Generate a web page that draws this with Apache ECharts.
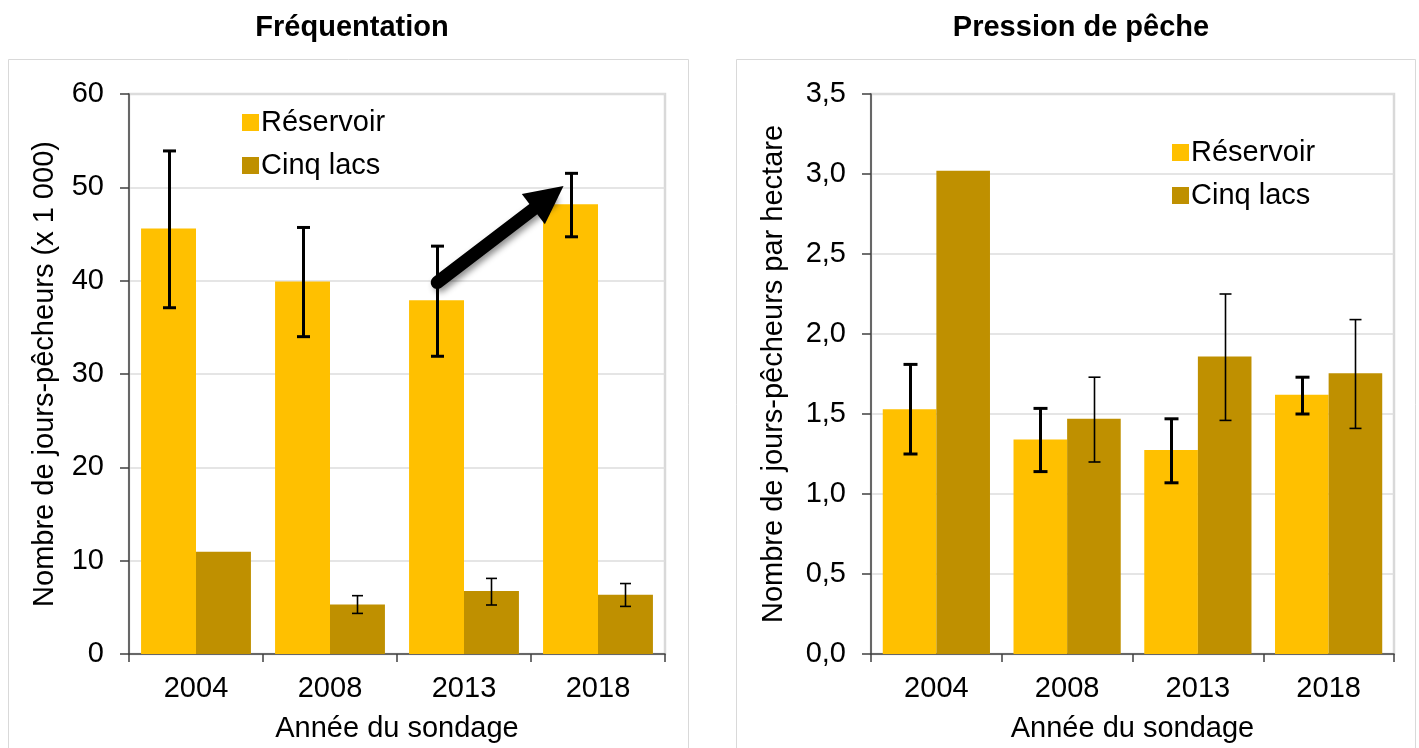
<!DOCTYPE html>
<html>
<head>
<meta charset="utf-8">
<script src="https://cdn.jsdelivr.net/npm/echarts@6/dist/echarts.min.js"></script>
<style>html,body{margin:0;padding:0;background:#fff;}#c{width:1419px;height:748px;}</style>
</head>
<body>
<div id="c"></div>
<script>
// ---- Data ----
var categories = ['2004', '2008', '2013', '2018'];

// Fréquentation (x 1 000 jours-pêcheurs)
var freqReservoir     = [45.6, 39.9, 37.9, 48.2];
var freqReservoirLow  = [37.1, 34.0, 31.9, 44.7];
var freqReservoirHigh = [53.9, 45.7, 43.7, 51.5];
var freqCinq     = [10.95, 5.3, 6.75, 6.35];
var freqCinqLow  = [null, 4.35, 5.25, 5.1];
var freqCinqHigh = [null, 6.25, 8.1, 7.55];

// Pression de pêche (jours-pêcheurs par hectare)
var pressReservoir     = [1.53, 1.34, 1.275, 1.62];
var pressReservoirLow  = [1.25, 1.14, 1.07, 1.50];
var pressReservoirHigh = [1.81, 1.535, 1.47, 1.73];
var pressCinq     = [3.02, 1.47, 1.86, 1.755];
var pressCinqLow  = [null, 1.20, 1.46, 1.41];
var pressCinqHigh = [null, 1.73, 2.25, 2.09];

// Arrow annotation (category-index units, value units)
var arrowFrom = [1.80, 39.8];
var arrowTo   = [2.63, 48.9];

var seriesNames = ['Réservoir', 'Cinq lacs'];

// ---- Styles ----
var FONT = '"Liberation Sans", Arial, sans-serif';
var FS = 29;
var C_RES = '#FFC000', C_CINQ = '#BF9000';
var AXIS = '#404040', GRIDC = '#DDDDDD';
var GAP = 0.18;

function errData(lo, hi) {
  var d = [];
  for (var i = 0; i < lo.length; i++) if (lo[i] != null) d.push([i, lo[i], hi[i]]);
  return d;
}
function makeErr(side, lw, cap) {
  return function (params, api) {
    var i = api.value(0);
    var lo = api.coord([i, api.value(1)]);
    var hi = api.coord([i, api.value(2)]);
    var band = api.size([1, 0])[0];
    var bw = band * (1 - GAP) / 2;
    var x = Math.round(lo[0] + side * bw / 2) + 0.5;
    var st = {stroke: '#000', lineWidth: lw};
    return {type: 'group', children: [
      {type: 'line', shape: {x1: x, y1: lo[1], x2: x, y2: hi[1]}, style: st},
      {type: 'line', shape: {x1: x - cap / 2, y1: lo[1], x2: x + cap / 2, y2: lo[1]}, style: st},
      {type: 'line', shape: {x1: x - cap / 2, y1: hi[1], x2: x + cap / 2, y2: hi[1]}, style: st}
    ]};
  };
}

function catAxis(gi) {
  return {
    type: 'category', gridIndex: gi, data: categories,
    name: 'Année du sondage', nameLocation: 'middle', nameGap: 60,
    nameTextStyle: {fontFamily: FONT, fontSize: FS, color: '#000'},
    axisLine: {show: true, onZero: false, lineStyle: {color: AXIS, width: 1.5}},
    axisTick: {show: true, length: 8, lineStyle: {color: AXIS, width: 1.5}},
    axisLabel: {fontFamily: FONT, fontSize: FS, color: '#000', margin: 20},
    splitLine: {show: false}
  };
}
function valAxis(gi, max, interval, name, gap, fmt) {
  return {
    type: 'value', gridIndex: gi, min: 0, max: max, interval: interval,
    name: name, nameLocation: 'middle', nameGap: gap,
    nameTextStyle: {fontFamily: FONT, fontSize: FS, color: '#000'},
    axisLine: {show: true, onZero: false, lineStyle: {color: AXIS, width: 1.5}},
    axisTick: {show: true, length: 9, lineStyle: {color: AXIS, width: 1.5}},
    axisLabel: {fontFamily: FONT, fontSize: FS, color: '#000', margin: 25, formatter: fmt},
    splitLine: {show: true, lineStyle: {color: GRIDC, width: 1.5}}
  };
}

var option = {
  animation: false,
  backgroundColor: '#fff',
  title: [
    {text: 'Fréquentation', left: 347, top: 8, textAlign: 'center',
     textStyle: {fontFamily: FONT, fontSize: FS, fontWeight: 'bold', color: '#000'}},
    {text: 'Pression de pêche', left: 1076, top: 8, textAlign: 'center',
     textStyle: {fontFamily: FONT, fontSize: FS, fontWeight: 'bold', color: '#000'}}
  ],
  graphic: [
    {type: 'rect', shape: {x: 8.5, y: 59.5, width: 680, height: 720}, style: {fill: 'none', stroke: '#D9D9D9', lineWidth: 1}, z: -10},
    {type: 'rect', shape: {x: 736.5, y: 59.5, width: 679, height: 720}, style: {fill: 'none', stroke: '#D9D9D9', lineWidth: 1}, z: -10}
  ],
  legend: [
    {left: 237, top: 103, orient: 'vertical', itemWidth: 17, itemHeight: 17, itemGap: 14, icon: 'rect',
     data: seriesNames, textStyle: {fontFamily: FONT, fontSize: FS, color: '#000', padding: [0, 0, 0, -3]}},
    {left: 1167, top: 133, orient: 'vertical', itemWidth: 17, itemHeight: 17, itemGap: 14, icon: 'rect',
     data: seriesNames, textStyle: {fontFamily: FONT, fontSize: FS, color: '#000', padding: [0, 0, 0, -3]}}
  ],
  grid: [
    {left: 129, top: 94, right: 754, bottom: 94, show: true, borderColor: '#D9D9D9', borderWidth: 2.5, backgroundColor: 'transparent'},
    {left: 871, top: 94, right: 25, bottom: 94, show: true, borderColor: '#D9D9D9', borderWidth: 2.5, backgroundColor: 'transparent'}
  ],
  xAxis: [
    catAxis(0),
    catAxis(1),
    {type: 'value', gridIndex: 0, min: -0.5, max: 3.5, show: false, axisLine: {onZero: false}}
  ],
  yAxis: [
    valAxis(0, 60, 10, 'Nombre de jours-pêcheurs (x 1 000)', 70, function (v) { return String(v); }),
    valAxis(1, 3.5, 0.5, 'Nombre de jours-pêcheurs par hectare', 83, function (v) { return v.toFixed(1).replace('.', ','); })
  ],
  series: [
    {name: 'Réservoir', type: 'bar', xAxisIndex: 0, yAxisIndex: 0, data: freqReservoir,
     itemStyle: {color: C_RES}, barGap: '0%', barCategoryGap: (GAP * 100) + '%'},
    {name: 'Cinq lacs', type: 'bar', xAxisIndex: 0, yAxisIndex: 0, data: freqCinq,
     itemStyle: {color: C_CINQ}, barGap: '0%', barCategoryGap: (GAP * 100) + '%'},
    {name: 'errFR', type: 'custom', xAxisIndex: 0, yAxisIndex: 0, z: 5,
     data: errData(freqReservoirLow, freqReservoirHigh), encode: {x: 0, y: [1, 2]}, renderItem: makeErr(-1, 3, 13)},
    {name: 'errFC', type: 'custom', xAxisIndex: 0, yAxisIndex: 0, z: 5,
     data: errData(freqCinqLow, freqCinqHigh), encode: {x: 0, y: [1, 2]}, renderItem: makeErr(1, 1.6, 11)},
    {name: 'arrow', type: 'lines', coordinateSystem: 'cartesian2d', xAxisIndex: 2, yAxisIndex: 0, z: 10,
     symbol: ['none', 'triangle'], symbolSize: [38, 38],
     lineStyle: {color: '#000', width: 13, opacity: 1, cap: 'round',
                 shadowBlur: 6, shadowColor: 'rgba(0,0,0,0.45)', shadowOffsetX: 3, shadowOffsetY: 3},
     data: [{coords: [arrowFrom, arrowTo]}]},

    {name: 'Réservoir', type: 'bar', xAxisIndex: 1, yAxisIndex: 1, data: pressReservoir,
     itemStyle: {color: C_RES}, barGap: '0%', barCategoryGap: (GAP * 100) + '%'},
    {name: 'Cinq lacs', type: 'bar', xAxisIndex: 1, yAxisIndex: 1, data: pressCinq,
     itemStyle: {color: C_CINQ}, barGap: '0%', barCategoryGap: (GAP * 100) + '%'},
    {name: 'errPR', type: 'custom', xAxisIndex: 1, yAxisIndex: 1, z: 5,
     data: errData(pressReservoirLow, pressReservoirHigh), encode: {x: 0, y: [1, 2]}, renderItem: makeErr(-1, 3, 14)},
    {name: 'errPC', type: 'custom', xAxisIndex: 1, yAxisIndex: 1, z: 5,
     data: errData(pressCinqLow, pressCinqHigh), encode: {x: 0, y: [1, 2]}, renderItem: makeErr(1, 1.6, 12)}
  ]
};

var chart = echarts.init(document.getElementById('c'), null, {renderer: 'canvas'});
chart.setOption(option);
</script>
</body>
</html>
